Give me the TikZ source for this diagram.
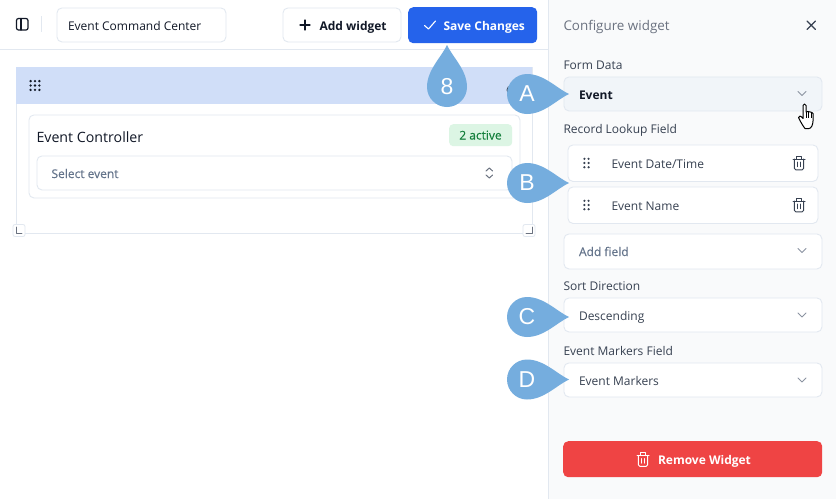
\documentclass[tikz,border=0pt]{standalone}
\usepackage{fontspec}
\setmainfont{Open Sans}
\newfontfamily\calloutfont{Liberation Sans}
\newfontfamily\mediumfont[FakeBold=0.35]{Open Sans}
\definecolor{edge}{HTML}{E2E8F0}
\definecolor{panelbg}{HTML}{F9FAFB}
\definecolor{bluebtn}{HTML}{2563EB}
\definecolor{headbar}{HTML}{D0DEF8}
\definecolor{drop}{HTML}{75ADDE}
\definecolor{inkdark}{HTML}{111827}
\definecolor{inkgrey}{HTML}{374151}
\definecolor{inkslate}{HTML}{64748B}
\definecolor{chev}{HTML}{6B7280}
\definecolor{chevlight}{HTML}{8B93A1}
\definecolor{redbtn}{HTML}{EF4444}
\definecolor{badgebg}{HTML}{DCF5E4}
\definecolor{badgefg}{HTML}{15803D}
\definecolor{selbg}{HTML}{F1F5F9}
\tikzset{
  x=1pt,y=-1pt,
  boxstyle/.style={draw=edge,line width=.9pt,fill=white,rounded corners=5pt,anchor=north west,inner sep=0pt},
  txt/.style={anchor=base west,inner sep=0pt,outer sep=0pt,font=\fontsize{12}{15}\selectfont},
  boldtxt/.style={txt,font=\fontsize{12}{15}\selectfont\bfseries},
  medtxt/.style={txt,font=\mediumfont\fontsize{12}{15}\selectfont},
  lbl/.style={txt,text=inkgrey},
  val/.style={txt,text=inkgrey},
  icon/.style={draw=#1,line width=1pt,line cap=round,line join=round,fill=none},
  icon/.default=inkgrey,
  calloutlbl/.style={inner sep=0pt,text=white,font=\calloutfont\fontsize{23}{25}\selectfont},
}
\newcommand{\chevdown}[2]{\draw[icon=chevlight,line width=.9pt] (#1-4,#2-2) -- (#1,#2+2) -- (#1+4,#2-2);}
\newcommand{\gripsix}[2]{\foreach \dx in {-2.1,2.1}\foreach \dy in {-4.2,0,4.2}
  \fill[inkgrey] (#1+\dx,#2+\dy) circle (1.2);}
\newcommand{\trashcan}[3]{\begin{scope}[shift={(#1,#2)}]
  \draw[icon=#3] (-6,-4) -- (6,-4);
  \draw[icon=#3] (-2.5,-4) -- (-2.5,-6.8) -- (2.5,-6.8) -- (2.5,-4);
  \draw[icon=#3,rounded corners=1.5pt] (-4.7,-4) -- (-4.7,6.8) -- (4.7,6.8) -- (4.7,-4);
  \draw[icon=#3] (-1.6,-1) -- (-1.6,3.6) (1.6,-1) -- (1.6,3.6);
\end{scope}}
\newcommand{\dropcallout}[5]{\begin{scope}[shift={(#2,#3)},rotate=#4]
  \fill[drop] (42,0) .. controls (30,-5.5) and (17,-20) .. (0,-20)
     arc[start angle=90,end angle=270,radius=20,y radius=-20]
     .. controls (17,20) and (30,5.5) .. (42,0) -- cycle;
\end{scope}\node[calloutlbl] (#1) at (#2,#3) {#5};}
\begin{document}
\begin{tikzpicture}
\useasboundingbox (0,0) rectangle (836,499);
\fill[white] (0,0) rectangle (836,499);
\fill[panelbg] (549,0) rectangle (836,499);
\draw[edge,line width=.9pt] (548.5,0) -- (548.5,499);
\draw[edge,line width=.9pt] (0,49.5) -- (548.5,49.5);
\draw[icon=inkdark,line width=1.2pt,rounded corners=2pt] (16.5,18.5) rectangle (28,30);
\draw[icon=inkdark,line width=1.2pt] (21,18.5) -- (21,30);
\draw[edge,line width=.8pt] (41.5,16) -- (41.5,32);
\node[boxstyle,minimum width=169pt,minimum height=34pt] (titlebox) at (56.5,7.5) {};
\node[txt,text=inkdark] (titletext) at (68,30) {Event Command Center};
\node[boxstyle,minimum width=118pt,minimum height=34pt] (addbtn) at (282.5,7.5) {};
\draw[icon=inkdark,line width=1.1pt] (300,25) -- (310,25) (305,20) -- (305,30);
\node[boldtxt,text=inkdark] (addtext) at (319.5,30) {Add widget};
\node[fill=bluebtn,rounded corners=5pt,minimum width=129pt,minimum height=36pt,anchor=north west,inner sep=0pt] (savebtn) at (408,7) {};
\draw[icon=white,line width=1.1pt] (424.5,25.5) -- (428.5,29) -- (435.5,21);
\node[boldtxt,text=white] (savetext) at (443.5,30) {Save Changes};
\draw[edge,line width=.9pt] (16.5,67.5) rectangle (532,233.5);
\fill[headbar] (16,67) rectangle (532,104);
\foreach \dx in {-4.4,0,4.4}\foreach \dy in {-4.4,0,4.4}\fill[inkdark] (35+\dx,85.5+\dy) circle (1.3);
\draw[icon=inkgrey] (511,90) circle (4);
\node[boxstyle,minimum width=491pt,minimum height=83pt] (card) at (28.5,114.5) {};
\node[txt,text=inkdark,font=\fontsize{14.2}{17}\selectfont] (cardtitle) at (36.5,142) {Event Controller};
\node[fill=badgebg,rounded corners=4pt,minimum width=63pt,minimum height=22pt,anchor=north west,inner sep=0pt] (badge) at (449,124) {};
\node[medtxt,text=badgefg,anchor=base] (badgetext) at (480.5,139.5) {2 active};
\node[boxstyle,minimum width=475pt,minimum height=34pt] (selectbox) at (36.5,155.5) {};
\node[medtxt,text=inkslate] (selecttext) at (51.5,178) {Select event};
\draw[icon=chev] (486,171) -- (489.3,168) -- (492.6,171) (486,175) -- (489.3,178) -- (492.6,175);
\node[draw=edge,fill=white,rounded corners=2pt,line width=.8pt,minimum width=12pt,minimum height=12pt,inner sep=0pt] (handleL) at (19,230.5) {};
\draw[icon=chev,line width=.8pt] (16,227) -- (16,233.5) -- (22,233.5);
\node[draw=edge,fill=white,rounded corners=2pt,line width=.8pt,minimum width=12pt,minimum height=12pt,inner sep=0pt] (handleR) at (529,230.5) {};
\draw[icon=chev,line width=.8pt] (532.5,227) -- (532.5,233.5) -- (526,233.5);
\node[txt,text=chev,font=\fontsize{13.4}{15}\selectfont] (cfgtitle) at (563.5,30) {Configure widget};
\draw[icon=inkgrey,line width=1.1pt] (807,21) -- (815.5,29.5) (815.5,21) -- (807,29.5);
\node[lbl] (lblform) at (563.5,69) {Form Data};
\node[boxstyle,fill=selbg,minimum width=258pt,minimum height=34pt] (formbox) at (563.5,76.5) {};
\node[boldtxt,text=inkdark] (formval) at (579,99) {Event};
\chevdown{802}{93.5}
\node[lbl] (lbllookup) at (563.5,133) {Record Lookup Field};
\node[boxstyle,minimum width=250pt,minimum height=36.5pt] (fieldA) at (567.5,144.5) {};
\gripsix{586.5}{163}
\node[val] (fieldAtext) at (611.5,168) {Event Date/Time};
\trashcan{799}{163}{inkgrey}
\node[boxstyle,minimum width=250pt,minimum height=36.5pt] (fieldB) at (567.5,186.5) {};
\gripsix{586.5}{205}
\node[val] (fieldBtext) at (611.5,210) {Event Name};
\trashcan{799}{205}{inkgrey}
\node[boxstyle,minimum width=258pt,minimum height=35pt] (addfield) at (563.5,233.5) {};
\node[medtxt,text=inkslate] (addfieldtext) at (579,256) {Add field};
\chevdown{802}{250.5}
\node[lbl] (lblsort) at (563.5,290) {Sort Direction};
\node[boxstyle,minimum width=258pt,minimum height=34pt] (sortbox) at (563.5,297.5) {};
\node[val] (sorttext) at (579,320) {Descending};
\chevdown{802}{315}
\node[lbl] (lblmark) at (563.5,355) {Event Markers Field};
\node[boxstyle,minimum width=258pt,minimum height=34pt] (markbox) at (563.5,362.5) {};
\node[val] (marktext) at (579,385) {Event Markers};
\chevdown{802}{380}
\node[fill=redbtn,rounded corners=5pt,minimum width=259pt,minimum height=36pt,anchor=north west,inner sep=0pt] (removebtn) at (563,441) {};
\trashcan{643}{459.5}{white}
\node[boldtxt,text=white] (removetext) at (658,464) {Remove Widget};
\draw[fill=white,draw=black,line width=1pt,line join=round]
  (803,105.5) .. controls (803,103.5) and (806,103.5) .. (806,105.5)
  -- (806,112) .. controls (808,111) and (812,112) .. (813,113.5)
  -- (813,121) .. controls (813,125) and (811,128.5) .. (809,128.5)
  -- (805,128.5) .. controls (803,126) and (800,121) .. (798.5,117.5)
  .. controls (798.5,115.5) and (801,115.5) .. (803,118.5) -- cycle;
\draw[black,line width=.7pt] (806,112) -- (806,118) (808.8,112) -- (808.8,118) (811,112.5) -- (811,118);
\dropcallout{calloutE}{447}{87}{90}{8}
\dropcallout{calloutA}{527}{94}{0}{A}
\dropcallout{calloutB}{527}{183}{0}{B}
\dropcallout{calloutC}{527}{317}{0}{C}
\dropcallout{calloutD}{527}{379.5}{0}{D}
\end{tikzpicture}
\end{document}
